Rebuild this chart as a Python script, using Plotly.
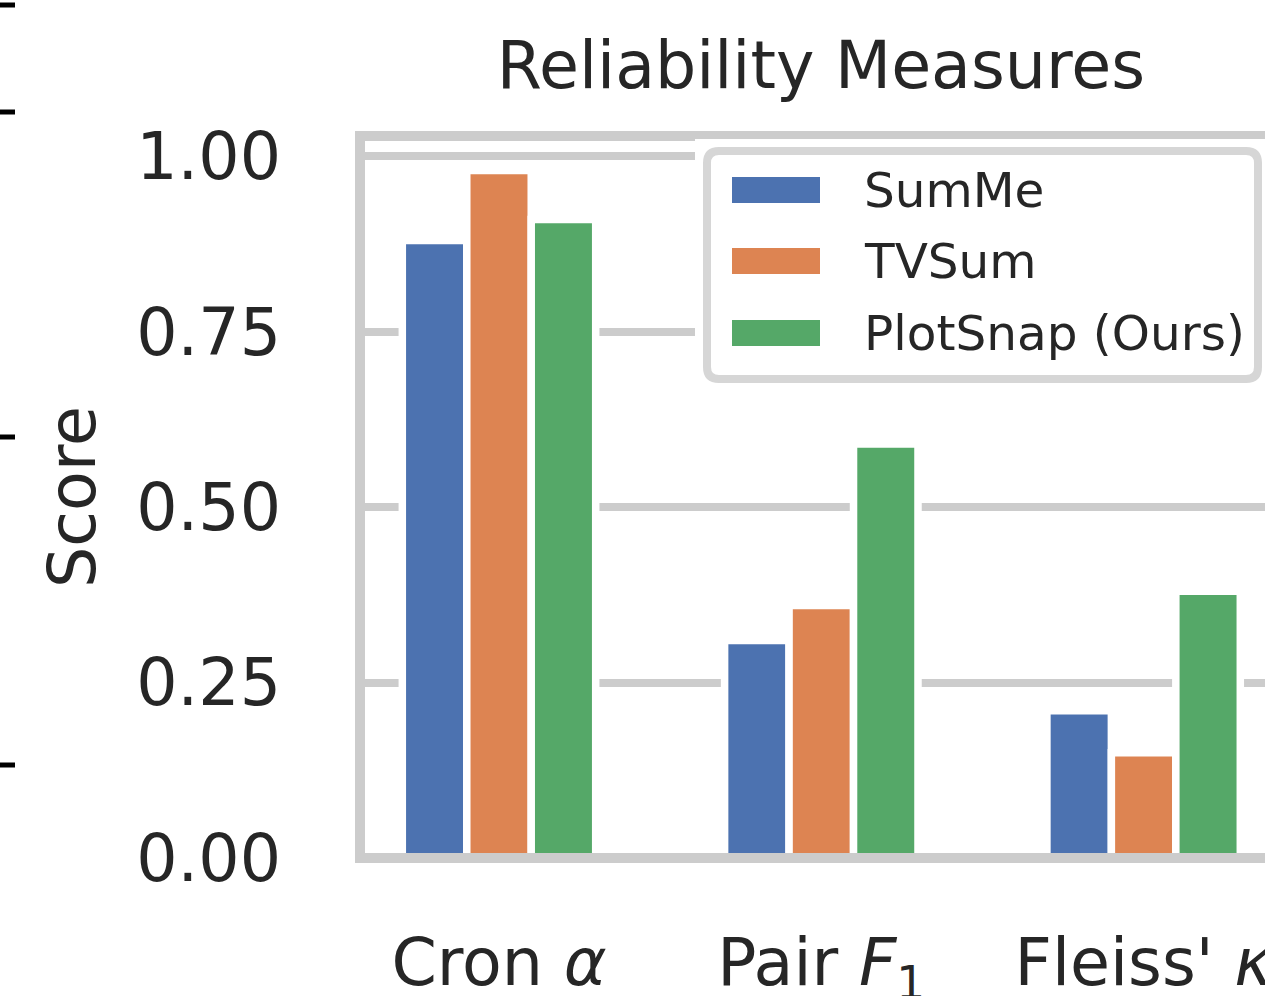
import plotly.graph_objects as go

# ---------------- data ----------------
categories = ["Cron α", "Pair F1", "Fleiss' κ"]
category_labels = ["Cron <i>α</i>", "Pair <i>F</i><sub>1</sub>", "Fleiss' <i>κ</i>"]
series_names = ["SumMe", "TVSum", "PlotSnap (Ours)"]
summe = [0.88, 0.31, 0.21]
tvsum = [0.98, 0.36, 0.15]
plotsnap = [0.91, 0.59, 0.38]
series_values = [summe, tvsum, plotsnap]
colors = ["#4C72B0", "#DD8452", "#55A868"]
y_ticks = [0.0, 0.25, 0.5, 0.75, 1.0]
y_tick_labels = ["0.00", "0.25", "0.50", "0.75", "1.00"]

# ---------------- layout geometry ----------------
W, H = 1265, 996
L, R, T, B = 360, 0, 136, 138
PW, PH = W - L - R, H - T - B
FONT = "DejaVu Sans"
TXT = "#262626"
GRID = "#cccccc"
FS = 65


def px(x):
    return (x - L) / PW


def py(y):
    return (H - B - y) / PH


fig = go.Figure()
for name, vals, col in zip(series_names, series_values, colors):
    fig.add_trace(go.Bar(
        x=categories, y=vals, name=name,
        marker=dict(color=col, line=dict(color="white", width=7.5)),
        showlegend=False,
    ))

shapes = []
# axes frame (spines) drawn above bars
shapes.append(dict(type="rect", xref="paper", yref="paper", x0=0, x1=1.05, y0=0, y1=1,
                   line=dict(color=GRID, width=10), fillcolor="rgba(0,0,0,0)", layer="above"))

# legend box
lx0, lx1, ly0, ly1, r = 707, 1258, 151, 379, 12
shapes.append(dict(type="rect", xref="paper", yref="paper",
                   x0=px(lx0 - 12), x1=px(lx1 + 12), y0=py(ly1 + 12), y1=py(ly0 - 12),
                   line=dict(width=0), fillcolor="white", layer="above"))
path = (f"M {px(lx0 + r)},{py(ly0)} L {px(lx1 - r)},{py(ly0)} "
        f"Q {px(lx1)},{py(ly0)} {px(lx1)},{py(ly0 + r)} "
        f"L {px(lx1)},{py(ly1 - r)} Q {px(lx1)},{py(ly1)} {px(lx1 - r)},{py(ly1)} "
        f"L {px(lx0 + r)},{py(ly1)} Q {px(lx0)},{py(ly1)} {px(lx0)},{py(ly1 - r)} "
        f"L {px(lx0)},{py(ly0 + r)} Q {px(lx0)},{py(ly0)} {px(lx0 + r)},{py(ly0)} Z")
shapes.append(dict(type="path", xref="paper", yref="paper", path=path,
                   line=dict(color="#d6d6d6", width=8), fillcolor="white", layer="above"))

annotations = []
handle_centers = [190, 261, 333]
for name, col, yc in zip(series_names, colors, handle_centers):
    shapes.append(dict(type="rect", xref="paper", yref="paper",
                       x0=px(732), x1=px(820), y0=py(yc + 13), y1=py(yc - 13),
                       line=dict(width=0), fillcolor=col, layer="above"))
    annotations.append(dict(xref="paper", yref="paper", x=px(862), y=py(yc),
                            xanchor="left", yanchor="middle", showarrow=False, text=name,
                            font=dict(family=FONT, size=48.5, color=TXT)))

# tick remnants of neighbouring panel at left edge
for yy in [5, 112, 437, 765]:
    shapes.append(dict(type="line", xref="paper", yref="paper",
                       x0=px(0), x1=px(15), y0=py(yy), y1=py(yy),
                       line=dict(color="black", width=5), layer="above"))

centre_px = 499.0
unit_px = 322.3
x_range = [(L - centre_px) / unit_px, (W - R - centre_px) / unit_px]

fig.update_layout(
    template="none",
    width=W, height=H, autosize=False,
    margin=dict(l=L, r=R, t=T, b=B, pad=0),
    paper_bgcolor="white", plot_bgcolor="white",
    barmode="group", bargap=0.4, bargroupgap=0.0,
    font=dict(family=FONT, color=TXT),
    title=dict(text="Reliability Measures", font=dict(family=FONT, size=FS, color=TXT),
               xref="container", x=821 / W, xanchor="center",
               yref="container", y=1 - 65 / H, yanchor="middle"),
    xaxis=dict(type="category", range=x_range, showgrid=False, showline=False, zeroline=False,
               tickvals=categories, ticktext=category_labels,
               ticks="outside", ticklen=48, tickcolor="rgba(0,0,0,0)",
               tickfont=dict(family=FONT, size=FS, color=TXT), automargin=False),
    yaxis=dict(range=[0, 1.029], tickvals=y_ticks, ticktext=y_tick_labels,
               showgrid=True, gridcolor=GRID, gridwidth=8, showline=False, zeroline=False,
               ticks="outside", ticklen=65, tickcolor="rgba(0,0,0,0)",
               tickfont=dict(family=FONT, size=FS, color=TXT),
               title=dict(text="Score", font=dict(family=FONT, size=FS, color=TXT), standoff=19),
               automargin=False),
    shapes=shapes,
    annotations=annotations,
)

fig.write_html("out.html", config={"displayModeBar": False},
               post_script="document.body.style.margin='0px';document.body.style.overflow='hidden';")
